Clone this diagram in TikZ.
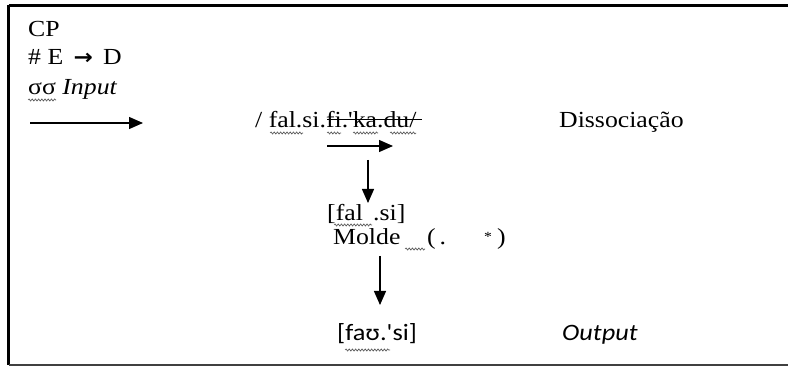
\documentclass[tikz,border=0pt]{standalone}
\usepackage{fontspec}
\usetikzlibrary{arrows.meta,decorations.pathmorphing}
\newfontfamily\tnrfont{Liberation Serif}[FakeStretch=1.12]
\newfontfamily\carfont{Carlito}[FakeStretch=1.12]
\newfontfamily\dvsfont{DejaVu Sans}[FakeStretch=1.1]
\tikzset{
  txt/.style={anchor=base west,inner sep=0pt,font=\tnrfont\fontsize{23}{26}\selectfont},
  stxt/.style={anchor=base west,inner sep=0pt,font=\carfont\fontsize{23.5}{26}\selectfont},
  arr/.style={line width=1.3pt,-{Triangle[length=14pt,width=12pt]}},
  squig/.style={black!65,line width=0.7pt,decorate,decoration={snake,amplitude=1pt,segment length=3.2pt}},
}
\begin{document}
\begin{tikzpicture}[x=1pt,y=-1pt]
\useasboundingbox (0,0) rectangle (788,366);
\clip (0,0) rectangle (788,366);
\draw[line width=2.5pt] (8.5,5.5) -- (800,5.5);
\draw[line width=2.5pt] (8.5,5.5) -- (8.5,365);
\draw[line width=2pt,black!75] (8.5,365.5) -- (800,365.5);
% left column
\node[txt] (cp) at (28,37) {CP};
\node[txt] (ed) at (28,65) {\# E\, {\dvsfont\bfseries\fontsize{21}{22}\selectfont →}\, D};
\node[txt] (inp) at (28,95) {σσ \textit{Input}};
\draw[squig] (28,100) -- (56,100);
\coordinate (la) at (30,123);
\coordinate (lb) at (143,123);
\draw[arr] (la) -- (lb);
% input form
\node[txt] (form) at (255,128) {/ fal.si.fi.\symbol{39}ka.du/};
\draw[line width=1pt] (327,120) -- (422,120);
\draw[squig] (270,133) -- (303,133);
\draw[squig] (327,133) -- (341,133);
\draw[squig] (353,133) -- (378,133);
\draw[squig] (390,133) -- (416,133);
\node[txt] (diss) at (559,128) {Dissociação};
\coordinate (sa) at (327,146);
\coordinate (sb) at (393,146);
\draw[arr] (sa) -- (sb);
% first down arrow
\coordinate (va) at (368,160);
\coordinate (vb) at (368,203);
\draw[arr] (va) -- (vb);
\node[txt] (fal) at (327,221) {[fal};
\node[txt] (si) at (373,221) {.si]};
\draw[squig] (334,225) -- (372,225);
\node[txt] (molde) at (333,245) {Molde};
\draw[squig] (405,249) -- (425,249);
\node[txt] (par) at (427,245) {(\,.};
\node[txt] (ast) at (484,242) {\fontsize{14}{16}\selectfont *};
\node[txt] (rpar) at (497,245) {)};
% second down arrow
\coordinate (wa) at (380,256);
\coordinate (wb) at (380,305);
\draw[arr] (wa) -- (wb);
\node[stxt] (out) at (337,341) {[faʊ.\symbol{39}si]};
\draw[squig] (345,350) -- (390,350);
\node[stxt] (outl) at (562,341) {\itshape Output};
\end{tikzpicture}
\end{document}
